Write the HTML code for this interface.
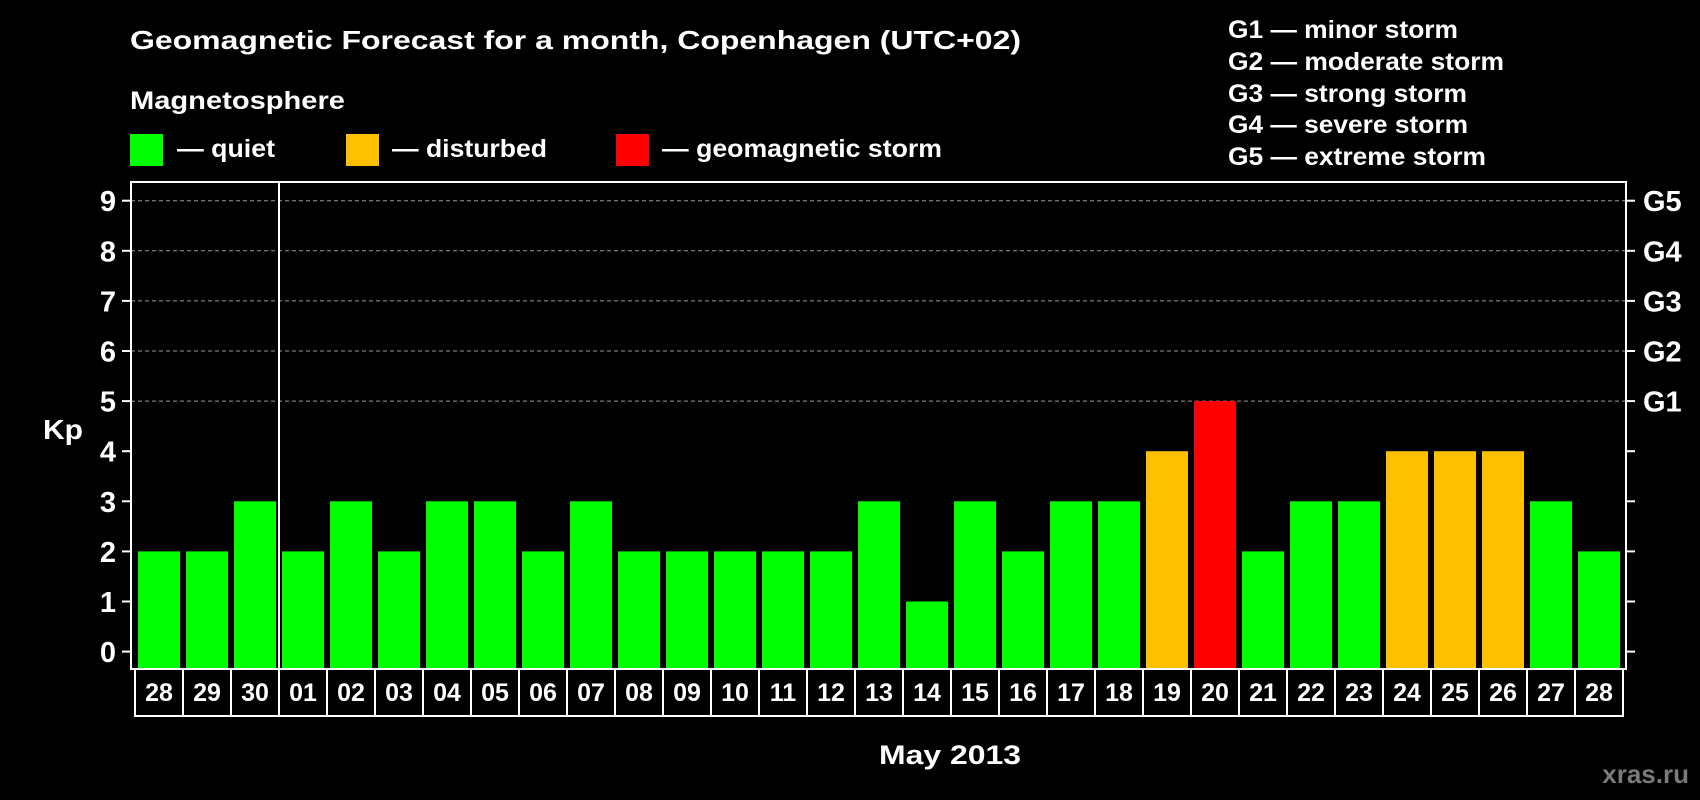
<!DOCTYPE html>
<html><head><meta charset="utf-8"><style>
html,body{margin:0;padding:0;background:#000;}
svg{display:block;font-family:"Liberation Sans",Arial,sans-serif;font-weight:bold;}
</style></head><body>
<svg id="chart" width="1700" height="800" viewBox="0 0 1700 800" xmlns="http://www.w3.org/2000/svg">
<rect width="1700" height="800" fill="#000"/>
<text x="130" y="49" fill="#fff" font-size="26" textLength="891" lengthAdjust="spacingAndGlyphs">Geomagnetic Forecast for a month, Copenhagen (UTC+02)</text>
<text x="130" y="109" fill="#fff" font-size="25" textLength="215" lengthAdjust="spacingAndGlyphs">Magnetosphere</text>
<g>
<rect x="130" y="134" width="33" height="32" fill="#00ff00"/>
<text x="177" y="157" fill="#fff" font-size="25" textLength="98" lengthAdjust="spacingAndGlyphs">— quiet</text></g>
<g>
<rect x="346" y="134" width="33" height="32" fill="#ffc000"/>
<text x="392" y="157" fill="#fff" font-size="25" textLength="155" lengthAdjust="spacingAndGlyphs">— disturbed</text></g>
<g>
<rect x="616" y="134" width="33" height="32" fill="#ff0000"/>
<text x="662" y="157" fill="#fff" font-size="25" textLength="280" lengthAdjust="spacingAndGlyphs">— geomagnetic storm</text></g>
<g fill="#fff" font-size="25">
<text x="1228" y="38" textLength="230" lengthAdjust="spacingAndGlyphs">G1 — minor storm</text>
<text x="1228" y="70" textLength="276" lengthAdjust="spacingAndGlyphs">G2 — moderate storm</text>
<text x="1228" y="102" textLength="239" lengthAdjust="spacingAndGlyphs">G3 — strong storm</text>
<text x="1228" y="133" textLength="240" lengthAdjust="spacingAndGlyphs">G4 — severe storm</text>
<text x="1228" y="165" textLength="258" lengthAdjust="spacingAndGlyphs">G5 — extreme storm</text>
</g>
<text x="43" y="439" fill="#fff" font-size="28" textLength="40" lengthAdjust="spacingAndGlyphs">Kp</text>
<text x="950" y="764" fill="#fff" font-size="27" text-anchor="middle" textLength="142" lengthAdjust="spacingAndGlyphs">May 2013</text>
<text x="1689" y="783" fill="#7a7a7a" font-size="26" text-anchor="end">xras.ru</text>
<g id="grid"></g><g id="bars"></g><g id="axes"></g>
</svg>
<script>
const dates = ["28","29","30","01","02","03","04","05","06","07","08","09","10","11","12","13","14","15","16","17","18","19","20","21","22","23","24","25","26","27","28"];
const kpValues = [2,2,3,2,3,2,3,3,2,3,2,2,2,2,2,3,1,3,2,3,3,4,5,2,3,3,4,4,4,3,2];
const yTicks = [0,1,2,3,4,5,6,7,8,9];
const gLabels = ["G1","G2","G3","G4","G5"];
const gValues = [5,6,7,8,9];
const monthBreakIndex = 3;

const NS="http://www.w3.org/2000/svg";
const plotL=131, plotR=1626, plotT=182, plotB=669;
const slotStart=135, slotW=48, barW=42;
const boxT=669, boxB=716;
function yS(v){return 651.6 - v*50.1;}
function xS(i){return slotStart + i*slotW;}
function mk(tag,attrs,parent){const e=document.createElementNS(NS,tag);for(const k in attrs)e.setAttribute(k,attrs[k]);parent.appendChild(e);return e;}
const grid=document.getElementById('grid'), bars=document.getElementById('bars'), axes=document.getElementById('axes');

gValues.forEach(v=>{
  const l=mk('line',{x1:plotL,x2:plotR,y1:yS(v),y2:yS(v),stroke:'#999','stroke-width':1,'stroke-dasharray':'4,3'},grid);
  
  
});
kpValues.forEach((v,i)=>{
  const c = v>=5?'#ff0000':(v>=4?'#ffc000':'#00ff00');
  const r=mk('rect',{x:xS(i)+3,y:yS(v),width:barW,height:plotB-yS(v),fill:c},bars);
  
  
});
const frame=mk('rect',{x:plotL,y:plotT,width:plotR-plotL,height:plotB-plotT,fill:'none',stroke:'#fff','stroke-width':2},axes);


const mb=mk('line',{x1:xS(monthBreakIndex),x2:xS(monthBreakIndex),y1:plotT,y2:plotB,stroke:'#fff','stroke-width':2},axes);


yTicks.forEach(v=>{
  const t=mk('line',{x1:122,x2:plotL,y1:yS(v),y2:yS(v),stroke:'#fff','stroke-width':2},axes);
  
  
  const t2=mk('line',{x1:plotR,x2:1635,y1:yS(v),y2:yS(v),stroke:'#fff','stroke-width':2},axes);
  
  
  const tx=mk('text',{x:116,y:yS(v)+10.5,fill:'#fff','font-size':29,'text-anchor':'end'},axes);
  tx.textContent=v;
  
  
});
gLabels.forEach((g,i)=>{
  const tx=mk('text',{x:1643,y:yS(gValues[i])+10.5,fill:'#fff','font-size':29},axes);
  tx.textContent=g;
  
  
});
const box=mk('rect',{x:slotStart,y:boxT,width:dates.length*slotW,height:boxB-boxT,fill:'none',stroke:'#fff','stroke-width':2},axes);


dates.forEach((d,i)=>{
  if(i>0){
    const s=mk('line',{x1:xS(i),x2:xS(i),y1:boxT,y2:boxB,stroke:'#fff','stroke-width':2},axes);
    
    
  }
  const tx=mk('text',{x:xS(i)+slotW/2,y:701,fill:'#fff','font-size':25,'text-anchor':'middle'},axes);
  tx.textContent=d;
  
  
});
</script>
</body></html>
